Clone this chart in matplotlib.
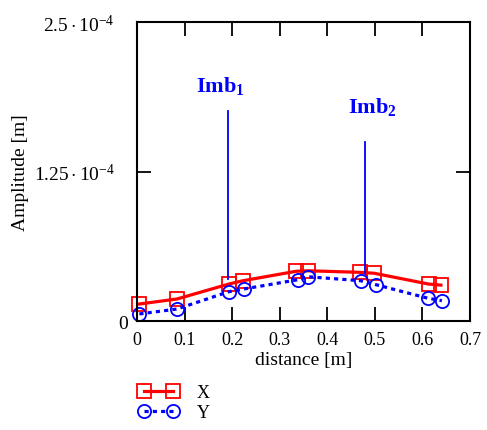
import numpy as np
import matplotlib
matplotlib.use("Agg")
import matplotlib.pyplot as plt
import matplotlib.transforms as mtransforms

plt.rcParams['font.family'] = ['Liberation Serif', 'DejaVu Serif']
plt.rcParams['mathtext.fontset'] = 'custom'
plt.rcParams['mathtext.rm'] = 'Liberation Serif'
plt.rcParams['mathtext.it'] = 'Liberation Serif:italic'
plt.rcParams['mathtext.bf'] = 'Liberation Serif:bold'

# measured points (distance [m], amplitude [m])
dist_x = [0.005, 0.084, 0.193, 0.223, 0.335, 0.359, 0.468, 0.499, 0.613, 0.639]
amp_x = [1.42e-5, 1.84e-5, 3.09e-5, 3.37e-5, 4.16e-5, 4.2e-5, 4.07e-5, 3.99e-5, 3.09e-5, 3.0e-5]
dist_y = [0.005, 0.084, 0.193, 0.225, 0.338, 0.36, 0.47, 0.502, 0.612, 0.641]
amp_y = [0.59e-5, 1.0e-5, 2.45e-5, 2.68e-5, 3.45e-5, 3.7e-5, 3.37e-5, 3.04e-5, 1.9e-5, 1.7e-5]

# imbalance markers
imb_pos = [0.192, 0.479]
imb_top = [1.76e-4, 1.5e-4]
imb_bottom = [3.5e-5, 3.9e-5]
imb_names = [r'$\mathbf{Imb_1}$', r'$\mathbf{Imb_2}$']
imb_label_x = [0.176, 0.494]
imb_label_y = [1.97e-4, 1.80e-4]

xticks = [0, 0.1, 0.2, 0.3, 0.4, 0.5, 0.6, 0.7]
xtick_labels = ['0', '0.1', '0.2', '0.3', '0.4', '0.5', '0.6', '0.7']
yticks = [0, 1.25e-4, 2.5e-4]
ytick_labels = ['0', r'$1.25\cdot10^{-4}$', r'$2.5\cdot10^{-4}$']

fig = plt.figure(figsize=(4.87, 4.31), dpi=100)
ax = fig.add_axes([0.2813, 0.2529, 0.6837, 0.6937])

ax.plot(dist_x, amp_x, color='red', lw=2.3, marker='s', ms=9.5, mfc='none',
        mec='red', mew=1.3, label='X', clip_on=False)
ax.plot(dist_y, amp_y, color='blue', lw=2.3, ls=(0, (1.3, 1.3)), marker='o', ms=9.5,
        mfc='none', mec='blue', mew=1.3, label='Y', clip_on=False)

for p, t, b in zip(imb_pos, imb_top, imb_bottom):
    ax.plot([p, p], [b, t], color='blue', lw=1.3)
for lx, ly, name in zip(imb_label_x, imb_label_y, imb_names):
    ax.text(lx, ly, name, color='blue', fontsize=16, ha='center', va='center')

ax.set_xlim(0, 0.7)
ax.set_ylim(0, 2.5e-4)
ax.set_xticks(xticks)
ax.set_xticklabels(xtick_labels)
ax.set_yticks(yticks)
ax.set_yticklabels(ytick_labels)
ax.tick_params(direction='in', length=10, width=1.3, labelsize=13,
               top=True, right=True)
ax.tick_params(axis='x', pad=7)
ax.tick_params(axis='y', pad=16, labelsize=14)
# the zero label sits closer to the axis
shift = mtransforms.ScaledTranslation(13 / 100, 0, fig.dpi_scale_trans)
zero_lab = ax.get_yticklabels()[0]
zero_lab.set_transform(zero_lab.get_transform() + shift)
for s in ax.spines.values():
    s.set_linewidth(1.5)

ax.set_xlabel('distance [m]', fontsize=14, labelpad=2)
ax.set_ylabel('Amplitude [m]', fontsize=14, labelpad=3)

fig.legend(loc='upper left', bbox_to_anchor=(0.266, 0.127), frameon=False,
           numpoints=2, handlelength=2.2, handletextpad=1.0, fontsize=13,
           borderpad=0, labelspacing=0.15)

fig.savefig('out.png', dpi=100)
